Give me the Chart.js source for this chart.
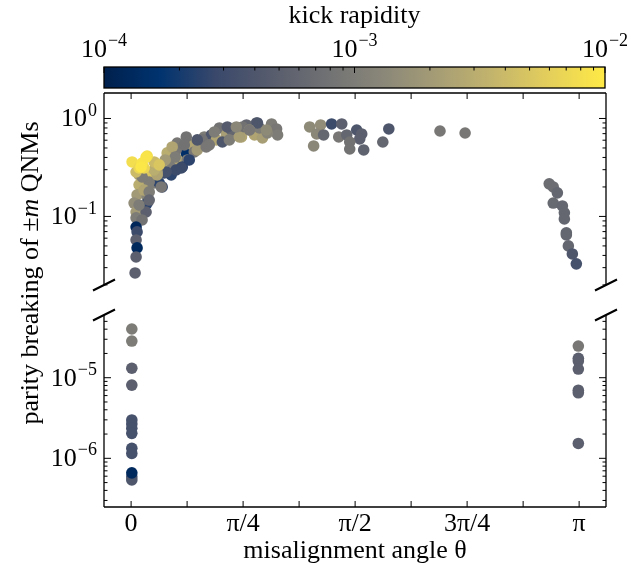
<!DOCTYPE html>
<html>
<head>
<meta charset="utf-8">
<script src="https://cdn.jsdelivr.net/npm/chart.js@4.4.0/dist/chart.umd.min.js"></script>
<style>
  html, body { margin: 0; padding: 0; background: #fff; }
  #wrap { position: relative; width: 643px; height: 570px; }
  #wrap canvas { position: absolute; left: 0; top: 0; }
</style>
</head>
<body>
<div id="wrap">
  <canvas id="cbar" width="643" height="570"></canvas>
  <canvas id="upper" width="643" height="570"></canvas>
  <canvas id="lower" width="643" height="570"></canvas>
</div>
<script>
// upper panel: misalignment angle (rad), parity breaking, kick rapidity
const thetaTop = [
  0.056, 0.070, 0.141, 0.056, 0.162, 0.218, 0.042, 0.113, 0.113, 0.021,
  0.035, 0.105, 0.035, 0.077, 0.035, 0.042, 0.035, 0.042, 0.035, 0.028,
  0.141, 0.218, 0.253, 0.267, 0.288, 0.323, 0.338, 0.387, 0.394, 0.429,
  0.443, 0.492, 0.513, 0.563, 0.598, 0.619, 0.668, 0.724, 0.759, 0.809,
  0.879, 0.865, 0.921, 0.900, 0.316, 0.232, 0.197, 0.127, 0.281, 0.985,
  1.020, 1.027, 0.774, 0.640, 0.499, 0.387, 0.408, 0.288, 0.316, 0.246,
  0.781, 0.886, 0.183, 0.359, 0.373, 0.464, 0.548, 0.703, 0.830, 0.956,
  0.091, 0.127, 1.252, 1.329, 1.301, 1.350, 1.406, 1.477, 1.456, 1.512,
  1.582, 1.617, 1.603, 1.533, 1.533, 1.631, 1.280, 1.765, 1.807, 2.166,
  2.342, 2.932, 2.960, 2.989, 2.960, 3.024, 3.038, 3.038, 3.052, 3.052,
  3.066, 3.094, 3.122,
  0.077, 0.183, 0.211, 0.352, 0.527, 0.689, 0.759, 0.830, 0.949, 0.464,
  0.584, 0.675, 0.738, 0.309, 0.239, 0.127, 0.056, 0.162,
  0.035, 0.091, 0.162, 0.197, 0.007, 0.113, 0.056, 0.077, 0.105, 0.070
];
const parityTop = [
  0.265, 0.265, 0.265, 0.210, 0.220, 0.200, 0.166, 0.158, 0.137, 0.137,
  0.111, 0.111, 0.0966, 0.092, 0.078, 0.0695, 0.0575, 0.0477, 0.0386, 0.0265,
  0.284, 0.336, 0.445, 0.284, 0.351, 0.562, 0.377, 0.445, 0.377, 0.537,
  0.455, 0.575, 0.648, 0.679, 0.604, 0.800, 0.679, 0.679, 0.800, 0.859,
  0.900, 0.679, 0.632, 0.800, 0.477, 0.278, 0.220, 0.225, 0.265, 0.879,
  0.782, 0.679, 0.648, 0.575, 0.604, 0.648, 0.377, 0.512, 0.298, 0.284,
  0.819, 0.900, 0.284, 0.320, 0.537, 0.477, 0.537, 0.763, 0.763, 0.711,
  0.186, 0.178, 0.819, 0.859, 0.695, 0.679, 0.879, 0.879, 0.648, 0.679,
  0.763, 0.695, 0.618, 0.575, 0.488, 0.477, 0.524, 0.575, 0.782, 0.745,
  0.711, 0.215, 0.200, 0.174, 0.137, 0.128, 0.109, 0.0942, 0.0679, 0.0648,
  0.0500, 0.0414, 0.0328,
  0.253, 0.265, 0.200, 0.313, 0.512, 0.604, 0.648, 0.763, 0.763, 0.604,
  0.728, 0.819, 0.819, 0.404, 0.377, 0.147, 0.131, 0.298,
  0.284, 0.313, 0.360, 0.336, 0.360, 0.414, 0.313, 0.351, 0.404, 0.320
];
const kickTop = [
  2.5e-3, 2.5e-3, 1e-3, 3e-3, 1e-3, 3e-4, 2e-3, 1.2e-3, 2.5e-4, 1.5e-3,
  2e-3, 5e-4, 1e-3, 8e-4, 1.2e-4, 3e-4, 5e-4, 1.3e-4, 5e-4, 5e-4,
  5e-3, 3e-3, 3e-3, 3e-4, 1e-3, 9e-4, 2.5e-3, 1.5e-4, 1e-3, 2.5e-3,
  9e-4, 9e-4, 1e-3, 4e-4, 2.5e-3, 8e-4, 2.2e-3, 1.6e-3, 1e-3, 6e-4,
  5e-4, 2.5e-3, 2.2e-3, 1e-3, 9e-4, 3e-4, 2.5e-4, 1e-3, 2.5e-4, 1e-3,
  9e-4, 1e-3, 2.5e-3, 4e-4, 8e-4, 8e-4, 2.5e-4, 2.5e-3, 3e-4, 3.5e-4,
  8e-4, 4e-4, 2e-3, 2.5e-4, 8e-4, 2e-3, 9e-4, 6e-4, 2e-3, 1.2e-3,
  2.5e-3, 1e-3, 1.4e-3, 1.5e-3, 1.3e-3, 6e-4, 3e-4, 5e-4, 9e-4, 6e-4,
  4e-4, 5e-4, 5e-4, 8e-4, 8e-4, 5.5e-4, 1.3e-3, 6e-4, 4e-4, 9e-4,
  9e-4, 7e-4, 7e-4, 6e-4, 6.5e-4, 6e-4, 6e-4, 6e-4, 6e-4, 6e-4,
  6e-4, 4e-4, 3.5e-4,
  1e-3, 2.5e-3, 9e-4, 3e-4, 9e-4, 1e-3, 2.2e-3, 9e-4, 1.4e-3, 4e-4,
  1e-3, 4.5e-4, 1.3e-3, 1e-3, 2e-3, 6e-4, 1e-3, 3e-3,
  4e-3, 7e-3, 4e-3, 5e-3, 8e-3, 8e-3, 7e-3, 9e-3, 9e-3, 9.5e-3
];

// lower panel
const thetaLow = [
  0.005, 0.005, 0.005, 0.005, 0.005, 0.005, 0.005, 0.005, 0.005, 0.005,
  0.005, 0.005, 0.005, 3.136, 3.136, 3.136, 3.136, 3.136, 3.136, 3.136
];
const parityLow = [
  4.02e-5, 2.85e-5, 1.31e-5, 8.1e-6, 2.99e-6, 2.67e-6, 2.36e-6, 2.04e-6, 1.33e-6, 1.15e-6,
  5.9e-7, 5.4e-7, 6.6e-7, 2.47e-5, 1.74e-5, 1.61e-5, 1.28e-5, 7.0e-6, 6.5e-6, 1.53e-6
];
const kickLow = [
  1e-3, 1e-3, 5e-4, 5e-4, 3.5e-4, 3.5e-4, 3.5e-4, 3.5e-4, 3.5e-4, 3.5e-4,
  3.5e-4, 4e-4, 1.3e-4, 9e-4, 5e-4, 5e-4, 5e-4, 5e-4, 5e-4, 5e-4
];

const xTickLabels = ['0', 'π/4', 'π/2', '3π/4', 'π'];
const kickTickValues = [1e-4, 1e-3, 1e-2];

// cividis, 10 samples
const cividis = ['#00204d', '#00336f', '#39486b', '#575c6d', '#707173',
                 '#8a8779', '#a69d75', '#c4b56c', '#e4cf5b', '#ffea46'];

const FONT = '"Liberation Serif", "Times New Roman", serif';
const FS = 26;

function hexToRgb(h) {
  return [1, 3, 5].map(i => parseInt(h.substr(i, 2), 16));
}

function cividisAt(t) {
  t = Math.min(1, Math.max(0, t));
  const f = t * (cividis.length - 1);
  const i = Math.min(cividis.length - 2, Math.floor(f));
  const a = hexToRgb(cividis[i]), b = hexToRgb(cividis[i + 1]);
  const u = f - i;
  const c = a.map((v, k) => Math.round(v + (b[k] - v) * u));
  return `rgb(${c[0]},${c[1]},${c[2]})`;
}

function kickColor(k) {
  return cividisAt((Math.log10(k) + 4) / 2);
}

// "10" with a raised exponent
function drawPow(ctx, x, y, exp, align) {
  const expTxt = exp < 0 ? '\u2212' + Math.abs(exp) : String(exp);
  ctx.font = `${FS}px ${FONT}`;
  const w10 = ctx.measureText('10').width;
  ctx.font = `${Math.round(FS * 0.7)}px ${FONT}`;
  const wExp = ctx.measureText(expTxt).width;
  const total = w10 + 1 + wExp;
  let x0 = align === 'right' ? x - total : x - total / 2;
  ctx.textAlign = 'left';
  ctx.textBaseline = 'alphabetic';
  ctx.fillStyle = '#000';
  ctx.font = `${FS}px ${FONT}`;
  ctx.fillText('10', x0, y);
  ctx.font = `${Math.round(FS * 0.7)}px ${FONT}`;
  ctx.fillText(expTxt, x0 + w10 + 1, y - FS * 0.42);
}

// box, inward ticks, log labels and axis break marks
const panelFrame = {
  id: 'panelFrame',
  afterDraw(chart, args, opts) {
    const { ctx, chartArea: a, scales } = chart;
    const xs = scales.x, ys = scales.y;
    ctx.save();
    ctx.strokeStyle = '#000';
    ctx.lineWidth = 1.3;
    ctx.beginPath();
    ctx.moveTo(a.left, a.top); ctx.lineTo(a.left, a.bottom);
    ctx.moveTo(a.right, a.top); ctx.lineTo(a.right, a.bottom);
    if (opts.topSpine) { ctx.moveTo(a.left, a.top); ctx.lineTo(a.right, a.top); }
    else { ctx.moveTo(a.left, a.bottom); ctx.lineTo(a.right, a.bottom); }
    ctx.stroke();

    ctx.lineWidth = 1;
    ctx.beginPath();
    for (let k = 0; k <= 8; k++) {
      const px = xs.getPixelForValue(k * Math.PI / 8);
      if (opts.topSpine) { ctx.moveTo(px, a.top); ctx.lineTo(px, a.top + 6); }
      else { ctx.moveTo(px, a.bottom); ctx.lineTo(px, a.bottom - 6); }
    }
    const e0 = Math.floor(Math.log10(ys.min)), e1 = Math.ceil(Math.log10(ys.max));
    for (let e = e0; e <= e1; e++) {
      for (let m = 1; m <= 9; m++) {
        const v = m * Math.pow(10, e);
        if (v < ys.min || v > ys.max) continue;
        const py = ys.getPixelForValue(v);
        const len = m === 1 ? 7 : 3.5;
        ctx.moveTo(a.left, py); ctx.lineTo(a.left + len, py);
        ctx.moveTo(a.right, py); ctx.lineTo(a.right - len, py);
      }
    }
    ctx.stroke();

    for (let e = e0; e <= e1; e++) {
      const v = Math.pow(10, e);
      if (v < ys.min || v > ys.max) continue;
      drawPow(ctx, a.left - 7, ys.getPixelForValue(v) + 8, e, 'right');
    }

    // break marks
    const yb = opts.topSpine ? a.bottom : a.top;
    ctx.lineWidth = 2;
    ctx.beginPath();
    [a.left, a.right].forEach(x => {
      ctx.moveTo(x - 11, yb + 5.5); ctx.lineTo(x + 11, yb - 5.5);
    });
    ctx.stroke();
    ctx.restore();
  }
};

const yTitle = {
  id: 'yTitle',
  afterDraw(chart) {
    const ctx = chart.ctx;
    const runs = [['parity breaking of ±', ''], ['m', 'italic '], [' QNMs', '']];
    ctx.save();
    ctx.translate(38, 273);
    ctx.rotate(-Math.PI / 2);
    ctx.fillStyle = '#000';
    ctx.textBaseline = 'alphabetic';
    ctx.textAlign = 'left';
    let total = 0;
    runs.forEach(r => { ctx.font = `${r[1]}${FS}px ${FONT}`; total += ctx.measureText(r[0]).width; });
    let x = -total / 2;
    runs.forEach(r => {
      ctx.font = `${r[1]}${FS}px ${FONT}`;
      ctx.fillText(r[0], x, 0);
      x += ctx.measureText(r[0]).width;
    });
    ctx.restore();
  }
};

const colorBar = {
  id: 'colorBar',
  afterDraw(chart) {
    const { ctx, chartArea: a, scales } = chart;
    const xs = scales.x;
    ctx.save();
    const g = ctx.createLinearGradient(a.left, 0, a.right, 0);
    cividis.forEach((c, i) => g.addColorStop(i / (cividis.length - 1), c));
    ctx.fillStyle = g;
    ctx.fillRect(a.left, a.top, a.right - a.left, a.bottom - a.top);
    ctx.strokeStyle = '#000';
    ctx.lineWidth = 1.3;
    ctx.strokeRect(a.left, a.top, a.right - a.left, a.bottom - a.top);
    ctx.lineWidth = 1;
    ctx.beginPath();
    for (let e = -4; e <= -2; e++) {
      for (let m = 1; m <= 9; m++) {
        const v = m * Math.pow(10, e);
        if (v < xs.min || v > xs.max * 1.0001) continue;
        const px = xs.getPixelForValue(v);
        const len = m === 1 ? 6 : 3.5;
        ctx.moveTo(px, a.top); ctx.lineTo(px, a.top + len);
      }
    }
    ctx.stroke();
    kickTickValues.forEach(v => {
      drawPow(ctx, xs.getPixelForValue(v), a.top - 10, Math.round(Math.log10(v)), 'center');
    });
    ctx.restore();
  }
};

const xMin = -0.19, xMax = 3.33;
const base = {
  responsive: false,
  animation: false,
  devicePixelRatio: 1,
  events: []
};
const hiddenTicks = { display: false };
const noGrid = { display: false, drawTicks: false };

new Chart(document.getElementById('cbar'), {
  type: 'scatter',
  data: { datasets: [] },
  options: Object.assign({}, base, {
    layout: { padding: { left: 104, right: 38, top: 0, bottom: 482 } },
    plugins: { legend: { display: false }, tooltip: { enabled: false } },
    scales: {
      x: {
        type: 'logarithmic', position: 'top', min: 1e-4, max: 1e-2,
        grid: noGrid, border: { display: false }, ticks: hiddenTicks,
        title: { display: true, text: 'kick rapidity', color: '#000',
                 font: { family: FONT, size: FS }, padding: { top: 1, bottom: 0 } },
        afterFit: s => { s.height = 67; }
      },
      y: { display: false }
    }
  }),
  plugins: [colorBar]
});

new Chart(document.getElementById('upper'), {
  type: 'scatter',
  data: {
    datasets: [{
      data: thetaTop.map((t, i) => ({ x: t, y: parityTop[i] })),
      pointRadius: 5.8,
      pointBorderWidth: 0,
      pointBackgroundColor: kickTop.map(kickColor)
    }]
  },
  options: Object.assign({}, base, {
    layout: { padding: { left: 0, right: 37, top: 93, bottom: 285 } },
    plugins: { legend: { display: false }, tooltip: { enabled: false },
               panelFrame: { topSpine: true } },
    scales: {
      x: { type: 'linear', min: xMin, max: xMax, display: false },
      y: {
        type: 'logarithmic', min: Math.pow(10, -1.70), max: Math.pow(10, 0.26),
        grid: noGrid, border: { display: false }, ticks: hiddenTicks,
        afterFit: s => { s.width = 104; }
      }
    }
  }),
  plugins: [panelFrame]
});

new Chart(document.getElementById('lower'), {
  type: 'scatter',
  data: {
    datasets: [{
      data: thetaLow.map((t, i) => ({ x: t, y: parityLow[i] })),
      pointRadius: 5.8,
      pointBorderWidth: 0,
      pointBackgroundColor: kickLow.map(kickColor)
    }]
  },
  options: Object.assign({}, base, {
    layout: { padding: { left: 0, right: 37, top: 315, bottom: 0 } },
    plugins: { legend: { display: false }, tooltip: { enabled: false },
               panelFrame: { topSpine: false } },
    scales: {
      x: {
        type: 'linear', min: xMin, max: xMax,
        grid: noGrid, border: { display: false },
        afterBuildTicks: s => { s.ticks = xTickLabels.map((l, k) => ({ value: k * Math.PI / 4 })); },
        ticks: {
          autoSkip: false, maxRotation: 0, padding: 2, color: '#000',
          font: { family: FONT, size: FS },
          callback: (v, i) => xTickLabels[i]
        },
        title: { display: true, text: 'misalignment angle θ', color: '#000',
                 font: { family: FONT, size: FS }, padding: { top: 0, bottom: 3 } },
        afterFit: s => { s.height = 63; }
      },
      y: {
        type: 'logarithmic', min: Math.pow(10, -6.604), max: Math.pow(10, -4.222),
        grid: noGrid, border: { display: false }, ticks: hiddenTicks,
        afterFit: s => { s.width = 104; }
      }
    }
  }),
  plugins: [panelFrame, yTitle]
});
</script>
</body>
</html>
